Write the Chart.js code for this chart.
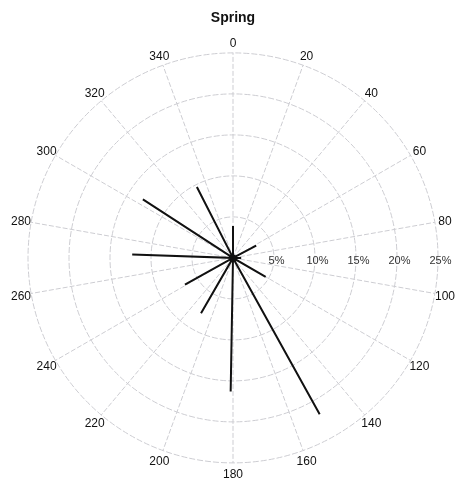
<!DOCTYPE html>
<html>
<head>
<meta charset="utf-8">
<script src="https://cdn.jsdelivr.net/npm/chart.js@4/dist/chart.umd.min.js"></script>
<style>
  html, body { margin: 0; padding: 0; background: #fff; }
  #wrap { width: 456px; height: 483px; }
</style>
</head>
<body>
<div id="wrap"><canvas id="roseChart"></canvas></div>
<script>
// directions (degrees clockwise from north) and frequency (%)
const directions = [0, 62, 90, 120, 151, 181, 210, 241, 272, 303, 333];
const frequencies = [3.9, 3.2, 1.0, 4.6, 21.8, 16.3, 7.8, 6.7, 12.3, 13.1, 9.7];

const ringValues = [5, 10, 15, 20, 25];
const ringLabels = ["5%", "10%", "15%", "20%", "25%"];
const angleTicks = [0, 20, 40, 60, 80, 100, 120, 140, 160, 180, 200, 220, 240, 260, 280, 300, 320, 340];
const rMax = 25;

// spokes: center -> tip -> center -> tip ...
const spokePoints = [];
directions.forEach((d, i) => {
  const a = d * Math.PI / 180;
  spokePoints.push({ x: 0, y: 0 });
  spokePoints.push({ x: frequencies[i] * Math.sin(a), y: frequencies[i] * Math.cos(a) });
});

// polar grid drawn with the chart's own x/y scales
const polarGrid = {
  id: "polarGrid",
  beforeDatasetsDraw(chart) {
    const { ctx, scales } = chart;
    const sx = scales.x, sy = scales.y;
    const px = (r, deg) => sx.getPixelForValue(r * Math.sin(deg * Math.PI / 180));
    const py = (r, deg) => sy.getPixelForValue(r * Math.cos(deg * Math.PI / 180));
    const cx = sx.getPixelForValue(0), cy = sy.getPixelForValue(0);

    ctx.save();
    ctx.lineWidth = 1;
    ctx.strokeStyle = "#cdcdd2";

    // rings
    ctx.setLineDash([6, 2]);
    ringValues.forEach(v => {
      const rad = sx.getPixelForValue(v) - cx;
      ctx.beginPath();
      ctx.arc(cx, cy, rad, 0, Math.PI * 2);
      ctx.stroke();
    });

    // angle lines
    ctx.setLineDash([5, 2]);
    angleTicks.forEach(d => {
      ctx.beginPath();
      ctx.moveTo(cx, cy);
      ctx.lineTo(px(rMax, d), py(rMax, d));
      ctx.stroke();
    });
    ctx.setLineDash([]);

    // angle labels
    ctx.fillStyle = "#111";
    ctx.font = "12px 'Liberation Sans', Arial, sans-serif";
    ctx.textAlign = "center";
    ctx.textBaseline = "middle";
    angleTicks.forEach(d => {
      ctx.fillText(String(d), px(rMax * 1.05, d), py(rMax * 1.05, d) + 1);
    });

    // percent labels
    ctx.fillStyle = "#333";
    ctx.font = "11px 'Liberation Sans', Arial, sans-serif";
    ringValues.forEach((v, i) => {
      ctx.fillText(ringLabels[i], sx.getPixelForValue(v + 0.3), cy + 3);
    });
    ctx.restore();
  }
};

new Chart(document.getElementById("roseChart"), {
  type: "scatter",
  data: {
    datasets: [{
      data: spokePoints,
      showLine: true,
      borderColor: "#111",
      borderWidth: 2,
      pointRadius: ctx => (ctx.dataIndex === 0 ? 3.5 : 0),
      pointBackgroundColor: "#111",
      pointBorderWidth: 0
    }]
  },
  options: {
    responsive: true,
    maintainAspectRatio: false,
    animation: false,
    layout: { padding: { left: 28, right: 18, top: 0, bottom: 20 } },
    scales: {
      x: { type: "linear", min: -rMax, max: rMax, display: false },
      y: { type: "linear", min: -rMax, max: rMax, display: false }
    },
    plugins: {
      legend: { display: false },
      tooltip: { enabled: false },
      title: {
        display: true,
        text: "Spring",
        color: "#111",
        font: { family: "'Liberation Sans', Arial, sans-serif", size: 14, weight: "bold" },
        padding: { top: 10, bottom: 26 }
      }
    }
  },
  plugins: [polarGrid]
});
</script>
</body>
</html>
